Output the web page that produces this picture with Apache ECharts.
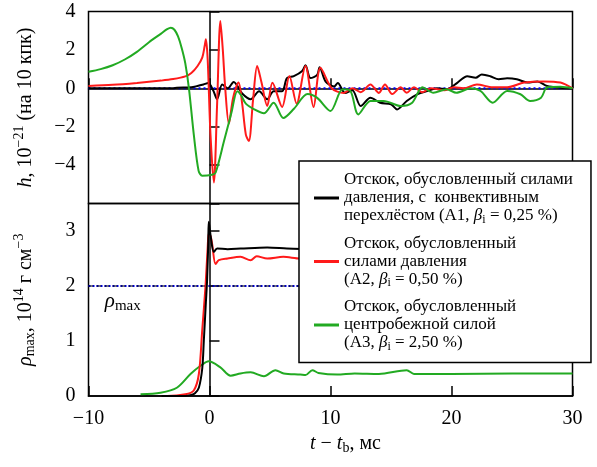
<!DOCTYPE html>
<html>
<head>
<meta charset="utf-8">
<script src="https://cdn.jsdelivr.net/npm/echarts@6/dist/echarts.min.js"></script>
<style>
html,body{margin:0;padding:0;background:#fff;}
#chart{width:597px;height:467px;}
</style>
</head>
<body>
<div id="chart"></div>
<script>
// ---------- DATA ----------
const xTicks = [-10, 0, 10, 20, 30];

// top panel: h, 10^-21
const tA1 = [-10,-3,-2.7,-1.5,-1.0,-0.5,-0.1,0.3,0.63,1.05,1.5,2.0,2.7,3.4,4.1,4.77,5.3,6.0,6.4,6.97,7.66,7.93,8.35,8.9,9.1,9.6,10.3,10.6,11.2,11.8,12.5,13.3,14.1,15.0,15.5,16.3,17.2,18.0,18.8,19.6,20.5,21.3,22.0,22.5,23.2,23.9,24.6,25.4,26.3,27.1,27.9,29.0,30];
const hA1 = [0,0,0.03,0.05,0.12,0.2,0.27,-0.1,-0.57,0.2,0.0,0.33,-0.27,-0.57,-0.16,-0.57,-0.15,-0.15,0.53,0.63,0.9,1.2,0.53,0.7,1.1,0.35,0.1,0.27,-0.24,-0.1,-0.92,-0.49,-0.75,-0.83,-1.1,-0.66,-0.3,-0.14,0,-0.05,0.3,0.63,0.55,0.72,0.63,0.47,0.52,0.47,0.3,0.36,0.12,0.03,0];

const tA2 = [-10,-8,-6,-4,-3,-2,-1.5,-1.0,-0.6,-0.4,-0.3,-0.15,0.08,0.36,0.63,0.9,1.1,1.3,1.6,1.95,2.4,2.7,3.0,3.25,3.6,3.94,4.3,4.77,5.2,6.0,6.6,7.2,7.93,8.6,9.17,10.1,11.1,11.8,12.5,13.3,14.0,14.5,15.1,15.8,16.3,16.9,17.6,18.3,19.4,20.2,21.0,22.1,23.4,24.6,26.0,27.6,29.0,30];
const hA2 = [0.12,0.18,0.28,0.4,0.48,0.62,0.8,1.15,1.6,2.2,2.55,1.5,-2.4,-4.9,-0.8,3.5,2.0,0.0,-1.85,-0.5,0.3,-0.8,-2.4,-2.75,-0.6,1.16,0.3,-0.92,0.29,-0.97,0.64,-0.8,1.16,-0.97,1.07,0.0,-0.24,0.0,-0.2,0.2,-0.24,0.2,-0.3,0.05,-0.23,0.05,-0.2,0.0,-0.1,0.05,0.0,0.2,0.05,0.05,0.3,0.36,0.3,0.0];

const tA3 = [-10,-9,-8,-7,-6,-5,-4,-3.5,-3.2,-2.9,-2.6,-2.3,-2.0,-1.7,-1.3,-0.9,-0.6,0.2,0.5,1.2,1.8,2.3,2.6,3.0,3.7,4.5,5.3,6.1,7.0,8.1,8.9,10.0,11.0,11.65,12.3,13.3,14.4,15.8,16.75,17.6,18.5,19.6,20.4,21.6,22.4,23.4,24.6,25.7,26.5,27.4,27.9,29.0,30];
const hA3 = [0.86,1.0,1.2,1.5,1.9,2.4,2.85,3.08,3.16,3.05,2.7,2.1,1.3,0.0,-2.4,-4.3,-4.55,-4.5,-4.4,-2.75,-1.3,-0.15,-0.35,-0.8,-1.1,-1.3,-0.75,-1.55,-1.05,-0.3,-0.5,-1.18,-0.05,-0.14,-1.36,-0.66,-0.66,-0.92,-0.75,0.05,-0.23,-0.05,-0.23,0.0,-0.14,-0.75,-0.14,-0.31,-0.66,-0.49,0.05,0.08,0.0];

// bottom panel: rho_max, 10^14 g/cm^3
const tR1 = [-4,-2,-1.5,-1.2,-0.88,-0.6,-0.47,-0.3,-0.2,-0.1,-0.06,0.1,0.36,0.63,1.5,2.56,4.77,6.4,8,10,15,20,25,30];
const rA1 = [0,0,0.02,0.05,0.15,0.5,1.0,1.7,2.1,2.8,3.17,2.9,2.62,2.68,2.67,2.68,2.7,2.68,2.67,2.66,2.66,2.66,2.65,2.65];

const tR2 = [-4,-3.5,-2,-1.3,-0.88,-0.6,-0.33,-0.15,-0.06,0.1,0.22,0.5,0.77,1.5,2.56,3.4,3.9,4.77,6.1,7.5,10,15,20,25,30];
const rA2 = [0,0,0.03,0.1,0.4,1.2,2.0,2.7,2.96,2.9,2.76,2.4,2.47,2.5,2.53,2.47,2.54,2.5,2.53,2.5,2.5,2.5,2.5,2.5,2.5];

const tR3 = [-5.7,-4.05,-2.7,-1.57,-0.74,-0.06,0.9,1.74,2.56,3.4,4.5,5.45,6.14,7.5,7.93,8.5,9.0,10.55,12,14,16.3,16.9,20,25,30];
const rA3 = [0.03,0.06,0.15,0.4,0.55,0.63,0.52,0.37,0.41,0.43,0.36,0.47,0.41,0.39,0.38,0.47,0.42,0.39,0.41,0.4,0.47,0.4,0.4,0.41,0.41];

const hZeroT = [-10, 30], hZero = [0, 0];
const rhoMaxT = [-10, 30], rhoMax = [2, 2];

const names = ['A1', 'A2', 'A3'];
const colors = ['#000000', '#ff1a1a', '#22aa22'];
const legendText = {
  A1: 'Отскок, обусловленный силами\nдавления, с  конвективным\nперехлёстом (A1, {i|β}{sub|i} = 0,25 %)',
  A2: 'Отскок, обусловленный\nсилами давления\n(A2, {i|β}{sub|i} = 0,50 %)',
  A3: 'Отскок, обусловленный\nцентробежной силой\n(A3, {i|β}{sub|i} = 2,50 %)'
};

// ---------- CHART ----------
const zip = (a, b) => a.map((v, i) => [v, b[i]]);
const FF = 'Liberation Serif';
const minus = v => (v < 0 ? '\u2212' + Math.abs(v) : String(v));

const chart = echarts.init(document.getElementById('chart'), null, {renderer: 'canvas'});

function lineSeries(name, x, y, xi, yi, color, z) {
  return {
    name: name, type: 'line', xAxisIndex: xi, yAxisIndex: yi,
    data: zip(x, y), showSymbol: false, symbol: 'none', smooth: 0.3,
    lineStyle: {color: color, width: 2}, itemStyle: {color: color},
    z: z, animation: false, silent: true
  };
}

const axisCommon = {
  axisLine: {show: true, lineStyle: {color: '#000', width: 1.5}},
  axisTick: {show: true, inside: true, length: 10, lineStyle: {color: '#000', width: 1.5}},
  splitLine: {show: false}
};

const option = {
  animation: false,
  backgroundColor: '#fff',
  grid: [
    {left: 88.5, right: 24.5, top: 11.5, height: 192, show: true, borderColor: '#000', borderWidth: 1.5},
    {left: 88.5, right: 24.5, top: 203.5, bottom: 71, show: true, borderColor: '#000', borderWidth: 1.5}
  ],
  xAxis: [
    Object.assign({gridIndex: 0, type: 'value', min: -10, max: 30, interval: 10,
      axisLabel: {show: false}}, axisCommon),
    Object.assign({gridIndex: 1, type: 'value', min: -10, max: 30, interval: 10,
      axisLabel: {show: true, color: '#000', fontFamily: FF, fontSize: 20, margin: 13, formatter: minus},
      name: '{i|t} − {i|t}{sub|b}, мс', nameLocation: 'middle', nameGap: 36,
      nameTextStyle: {color: '#000', fontFamily: FF, fontSize: 20, padding: [0, 0, 0, 30],
        rich: {
          i: {fontFamily: FF, fontSize: 20, fontStyle: 'italic', color: '#000'},
          sub: {fontFamily: FF, fontSize: 14, color: '#000', padding: [9, 0, 0, 0]}
        }}}, axisCommon)
  ],
  yAxis: [
    Object.assign({gridIndex: 0, type: 'value', min: -6, max: 4, interval: 2,
      axisLabel: {color: '#000', fontFamily: FF, fontSize: 20, margin: 13,
        formatter: v => (v === -6 ? '' : minus(v))},
      name: '{i|h}, 10{sup|−21} (на 10 кпк)', nameLocation: 'middle', nameGap: 50,
      nameTextStyle: {color: '#000', fontFamily: FF, fontSize: 20,
        rich: {
          i: {fontFamily: FF, fontSize: 20, fontStyle: 'italic', color: '#000'},
          sup: {fontFamily: FF, fontSize: 14, color: '#000', padding: [0, 0, 12, 0]}
        }}}, axisCommon),
    Object.assign({gridIndex: 1, type: 'value', min: 0, max: 3.5, interval: 1,
      axisLabel: {color: '#000', fontFamily: FF, fontSize: 20, margin: 13,
        formatter: v => (v > 3.2 ? '' : String(v))},
      name: '{i|ρ}{sub|max}, 10{sup|14} г см{sup|−3}', nameLocation: 'middle', nameGap: 50,
      nameTextStyle: {color: '#000', fontFamily: FF, fontSize: 20,
        rich: {
          i: {fontFamily: FF, fontSize: 20, fontStyle: 'italic', color: '#000'},
          sub: {fontFamily: FF, fontSize: 14, color: '#000', padding: [9, 0, 0, 0]},
          sup: {fontFamily: FF, fontSize: 14, color: '#000', padding: [0, 0, 12, 0]}
        }}}, axisCommon)
  ],
  legend: {
    data: names,
    orient: 'vertical',
    left: 299, top: 161,
    padding: [10, 18, 10, 15],
    itemGap: 9,
    itemWidth: 25, itemHeight: 3,
    icon: 'rect',
    backgroundColor: '#fff',
    borderColor: '#000', borderWidth: 1.5,
    selectedMode: false,
    z: 10,
    formatter: n => legendText[n],
    textStyle: {
      color: '#000', fontFamily: FF, fontSize: 17, lineHeight: 18,
      rich: {
        i: {fontFamily: FF, fontSize: 17, fontStyle: 'italic', color: '#000', lineHeight: 18},
        sub: {fontFamily: FF, fontSize: 12, color: '#000', lineHeight: 18, padding: [7, 0, 0, 0]}
      }
    }
  },
  series: [
    {name: 'zeroH', type: 'line', xAxisIndex: 0, yAxisIndex: 0, data: zip(hZeroT, hZero),
      showSymbol: false, symbol: 'none', lineStyle: {color: '#0000ff', width: 2, type: [2, 3]}, z: 1, silent: true},
    {name: 'rhoBlue', type: 'line', xAxisIndex: 1, yAxisIndex: 1, data: zip(rhoMaxT, rhoMax),
      showSymbol: false, symbol: 'none', lineStyle: {color: '#0000ff', width: 2, type: [2, 2]}, z: 1, silent: true,
      markPoint: {
        symbol: 'circle', symbolSize: 0, silent: true,
        data: [{coord: [-8.65, 1.72]}],
        label: {show: true, position: 'right', distance: 0, color: '#000', fontFamily: FF, fontSize: 20,
          formatter: '{i|ρ}{sub|max}',
          rich: {
            i: {fontFamily: FF, fontSize: 21, fontStyle: 'italic', color: '#000'},
            sub: {fontFamily: FF, fontSize: 15, color: '#000', padding: [10, 0, 0, 0]}
          }}
      }},
    {name: 'rhoBlack', type: 'line', xAxisIndex: 1, yAxisIndex: 1, data: zip(rhoMaxT, rhoMax),
      showSymbol: false, symbol: 'none', lineStyle: {color: '#000', width: 1.2, type: [5, 3]}, z: 1, silent: true},
    lineSeries('A1', tA1, hA1, 0, 0, colors[0], 3),
    lineSeries('A2', tA2, hA2, 0, 0, colors[1], 4),
    lineSeries('A3', tA3, hA3, 0, 0, colors[2], 5),
    lineSeries('A3', tR3, rA3, 1, 1, colors[2], 3),
    lineSeries('A2', tR2, rA2, 1, 1, colors[1], 4),
    lineSeries('A1', tR1, rA1, 1, 1, colors[0], 5)
  ]
};
chart.setOption(option);
</script>
</body>
</html>
